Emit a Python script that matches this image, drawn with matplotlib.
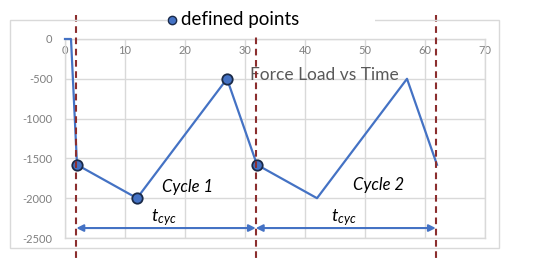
import matplotlib
matplotlib.use("Agg")
import matplotlib.pyplot as plt
from matplotlib.patches import Rectangle
from matplotlib.lines import Line2D
import matplotlib.transforms as mtransforms

plt.rcParams['font.family'] = ['Lato', 'DejaVu Sans']
plt.rcParams['mathtext.fontset'] = 'custom'
plt.rcParams['mathtext.it'] = 'Lato:italic'
plt.rcParams['mathtext.rm'] = 'Lato'

# Data
time = [0, 1, 2, 12, 27, 32, 42, 57, 62]
force = [0, 0, -1580, -2000, -500, -1580, -2000, -500, -1580]
defined_t = [2, 12, 27, 32]
defined_f = [-1580, -2000, -500, -1580]
cycle_bounds = [1.9, 31.8, 61.8]
cycle_labels = ["Cycle 1", "Cycle 2"]
x_ticks = [0, 10, 20, 30, 40, 50, 60, 70]
y_ticks = [0, -500, -1000, -1500, -2000, -2500]

blue = '#4472C4'
grid_c = '#d9d9d9'
tick_c = '#7f7f7f'
red = '#8B2E2E'

W, H = 535, 258
fig = plt.figure(figsize=(W / 100, H / 100), dpi=100)
ax = fig.add_axes([65 / W, 1 - 238 / H, 420 / W, 199 / H])

# outer chart frame
fig.patches.append(Rectangle((10 / W, 1 - 248 / H), 489 / W, 228 / H,
                             transform=fig.transFigure, fill=False,
                             edgecolor=grid_c, lw=1.0, zorder=0))

ax.set_xlim(0, 70)
ax.set_ylim(-2500, 0)
ax.set_xticks(x_ticks)
ax.set_yticks(y_ticks)
ax.set_yticklabels([str(v) for v in y_ticks])
ax.grid(True, color=grid_c, lw=1.0)
ax.set_axisbelow(True)
for s in ax.spines.values():
    s.set_color(grid_c)
    s.set_linewidth(1.0)

ax.tick_params(axis='x', top=True, bottom=False, labeltop=True, labelbottom=False,
               length=0, pad=-12, labelsize=8, labelcolor=tick_c)
ax.tick_params(axis='y', length=0, pad=9, labelsize=8, labelcolor=tick_c)

ax.plot(time, force, color=blue, lw=1.6, zorder=3, clip_on=False)
ax.plot(defined_t, defined_f, linestyle='none', marker='o', ms=7.5,
        markerfacecolor=blue, markeredgecolor='#1a2a48', markeredgewidth=1.3,
        zorder=4, clip_on=False)

# cycle boundary dashed lines
trans = mtransforms.blended_transform_factory(ax.transData, ax.transAxes)
for xb in cycle_bounds:
    ax.plot([xb, xb], [1.12, -0.12], transform=trans, color=red, lw=1.5,
            linestyle=(0, (3.2, 2.2)), clip_on=False, zorder=5)

# arrows
for i in range(2):
    ax.annotate('', xy=(cycle_bounds[i], -2375), xytext=(cycle_bounds[i + 1], -2375),
                arrowprops=dict(arrowstyle='<|-|>', color=blue, lw=1.5,
                                shrinkA=0, shrinkB=0, mutation_scale=10),
                zorder=4)
    mid = (cycle_bounds[i] + cycle_bounds[i + 1]) / 2
    ax.text(mid - 0.3, -2250, r'$t_{cyc}$', fontsize=13, ha='center', va='center',
            color='black')

ax.text(20.5, -1860, cycle_labels[0], fontsize=12, style='italic',
        ha='center', va='center', color='black')
ax.text(52.3, -1830, cycle_labels[1], fontsize=12, style='italic',
        ha='center', va='center', color='black')

ax.text(30.8, -450, 'Force Load vs Time', fontsize=12.5, ha='left', va='center',
        color='#595959')

# legend
fig.patches.append(Rectangle((167 / W, 1 - 33 / H), 208 / W, 30 / H,
                             transform=fig.transFigure, facecolor='white',
                             edgecolor='none', zorder=10))
fig.add_artist(Line2D([172 / W], [1 - 20 / H], transform=fig.transFigure,
                      marker='o', ms=6, markerfacecolor=blue,
                      markeredgecolor='#1a2a48', markeredgewidth=1.0, zorder=11))
fig.text(181 / W, 1 - 20 / H, 'defined points', fontsize=13.5, ha='left',
         va='center', color='black', zorder=12)

fig.savefig('out.png', dpi=100)
